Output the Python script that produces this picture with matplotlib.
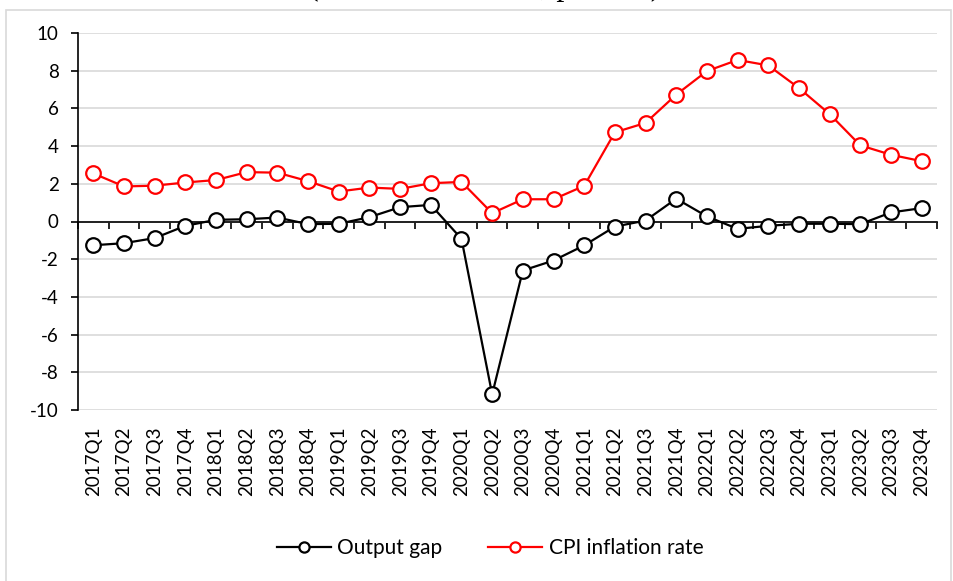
import matplotlib
matplotlib.use("Agg")
import matplotlib.pyplot as plt
from matplotlib.patches import Rectangle
import numpy as np

quarters = ["2017Q1", "2017Q2", "2017Q3", "2017Q4", "2018Q1", "2018Q2", "2018Q3", "2018Q4",
            "2019Q1", "2019Q2", "2019Q3", "2019Q4", "2020Q1", "2020Q2", "2020Q3", "2020Q4",
            "2021Q1", "2021Q2", "2021Q3", "2021Q4", "2022Q1", "2022Q2", "2022Q3", "2022Q4",
            "2023Q1", "2023Q2", "2023Q3", "2023Q4"]
output_gap = [-1.26, -1.15, -0.88, -0.23, 0.09, 0.12, 0.21, -0.14,
              -0.12, 0.23, 0.76, 0.88, -0.92, -9.17, -2.60, -2.07,
              -1.27, -0.27, 0.05, 1.21, 0.27, -0.39, -0.23, -0.12,
              -0.12, -0.14, 0.48, 0.71]
cpi_inflation = [2.55, 1.86, 1.90, 2.07, 2.20, 2.62, 2.59, 2.14,
                 1.59, 1.80, 1.73, 2.03, 2.10, 0.44, 1.18, 1.18,
                 1.89, 4.73, 5.23, 6.73, 7.98, 8.57, 8.28, 7.08,
                 5.70, 4.04, 3.54, 3.20]
yticks = [10, 8, 6, 4, 2, 0, -2, -4, -6, -8, -10]
title = "(2017Q1\u20132023Q4, percent)"

plt.rcParams['font.family'] = ['Lato', 'DejaVu Sans']

fig = plt.figure(figsize=(9.54, 5.81), dpi=100)
W, H = 954, 581
ax = fig.add_axes([78 / W, 1 - 410 / H, (937 - 78) / W, (410 - 33) / H])

# outer chart frame
fig.patches.append(Rectangle((6 / W, -0.01), (951 - 6) / W, 1 - 10 / H + 0.01,
                             transform=fig.transFigure, fill=False,
                             edgecolor='#d9d9d9', linewidth=1.2))
fig.text(485 / W, 1 + 5 / H, title, family='Liberation Serif', fontsize=23,
         ha='center', va='baseline', color='black')

x = np.arange(len(quarters))
ax.plot(x, output_gap, color='black', lw=1.6, marker='o', ms=10.5,
        mfc='white', mec='black', mew=1.6, label='Output gap', zorder=3)
ax.plot(x, cpi_inflation, color='#ff0000', lw=1.6, marker='o', ms=10.5,
        mfc='white', mec='#ff0000', mew=1.6, label='CPI inflation rate', zorder=3)

ax.set_xlim(-0.5, len(quarters) - 0.5)
ax.set_ylim(min(yticks), max(yticks))
ax.set_yticks(yticks)
ax.set_yticklabels([str(v) for v in yticks])
ax.yaxis.grid(True, color='#d9d9d9', lw=1.2)
ax.set_axisbelow(True)

for s in ['top', 'right']:
    ax.spines[s].set_visible(False)
ax.spines['left'].set_color('black')
ax.spines['left'].set_linewidth(1.2)
ax.spines['bottom'].set_position(('data', 0))
ax.spines['bottom'].set_color('black')
ax.spines['bottom'].set_linewidth(1.2)

ax.set_xticks(np.arange(-0.5, len(quarters), 1.0))
ax.tick_params(axis='x', direction='out', length=5, width=1.2, labelbottom=False)
ax.tick_params(axis='y', direction='out', length=5, width=1.2, labelsize=13.5, pad=9)

sec = ax.secondary_xaxis(0.0)
sec.set_xticks(x)
sec.set_xticklabels(quarters, rotation=90, fontsize=13.5)
sec.tick_params(length=0, pad=12)
sec.spines['bottom'].set_visible(False)

fig.legend(loc='center', bbox_to_anchor=(490 / W, 1 - 548 / H), ncol=2, frameon=False,
           fontsize=15, handlelength=2.6, columnspacing=2.2, handletextpad=0.3,
           markerscale=0.7)

fig.savefig('out.png', dpi=100)
